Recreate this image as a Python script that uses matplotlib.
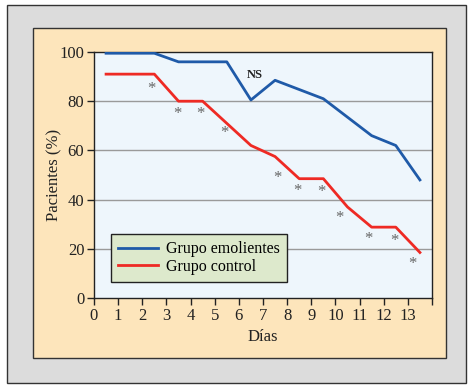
import matplotlib.pyplot as plt
from matplotlib.patches import Rectangle

# Data
dias = [0.5, 2.5, 3.5, 5.5, 6.5, 7.5, 9.5, 11.5, 12.5, 13.5]
emolientes = [99.5, 99.5, 96, 96, 80.5, 88.5, 81, 66, 62, 48]

dias_ctrl = [0.5, 2.5, 3.5, 4.5, 6.5, 7.5, 8.5, 9.5, 10.5, 11.5, 12.5, 13.5]
control = [91, 91, 80, 80, 62, 57.5, 48.5, 48.5, 37, 28.8, 28.8, 18.5]

# asterisks (significance marks)
ast_x = [2.36, 3.47, 4.42, 5.41, 7.59, 8.41, 9.41, 10.15, 11.35, 12.43, 13.2]
ast_y = [84.8, 74.7, 74.7, 67, 48.9, 43.6, 43, 32.4, 24.1, 23, 13.9]

xticks = list(range(0, 15))
xlabels = [str(i) for i in range(0, 14)] + ['']
yticks = [0, 20, 40, 60, 80, 100]

plt.rcParams['font.family'] = ['Liberation Serif', 'DejaVu Serif']

fig = plt.figure(figsize=(4.72, 3.89), dpi=100)
fig.patch.set_facecolor('white')

W, H = 472, 389
# outer grey frame
fig.patches.append(Rectangle((7 / W, 1 - 383 / H), 459 / W, 378 / H, transform=fig.transFigure,
                             facecolor='#dcdcdc', edgecolor='#333333', lw=1.0, zorder=-2))
# beige panel
fig.patches.append(Rectangle((33 / W, 1 - 358 / H), 413 / W, 330 / H, transform=fig.transFigure,
                             facecolor='#fde5bb', edgecolor='#333333', lw=1.0, zorder=-1))

ax = fig.add_axes([94 / W, 1 - 298 / H, 338 / W, 246 / H])
ax.set_zorder(2)
ax.set_facecolor('#eef6fc')

for y in [20, 40, 60, 80]:
    ax.axhline(y, color='#9a9a9a', lw=1.0, zorder=1)

ax.plot(dias, emolientes, color='#1f5aa8', lw=2.0, label='Grupo emolientes', zorder=3)
ax.plot(dias_ctrl, control, color='#ee2a24', lw=2.0, label='Grupo control', zorder=3)

for x, y in zip(ast_x, ast_y):
    ax.text(x, y, '*', color='#666666', fontsize=12, ha='center', va='center', zorder=4)

ax.text(6.65, 90.5, 'NS', fontsize=9, fontweight='bold', ha='center', va='center', color='#222222')

ax.set_xlim(0, 14)
ax.set_ylim(0, 100)
ax.set_xticks(xticks)
ax.set_xticklabels(xlabels)
ax.set_yticks(yticks)
ax.tick_params(axis='both', labelsize=12, length=5, width=1.0, colors='#222222', pad=2)
for s in ax.spines.values():
    s.set_color('#222222')
    s.set_linewidth(1.0)

ax.set_xlabel('Días', fontsize=12, labelpad=4, color='#222222')
ax.set_ylabel('Pacientes (%)', fontsize=12, labelpad=-2, color='#222222')

leg = ax.legend(loc='lower left', bbox_to_anchor=(0.05, 0.065), fontsize=11.5, frameon=True,
                fancybox=False, edgecolor='#222222', facecolor='#dde9cc', framealpha=1,
                handlelength=2.5, handletextpad=0.5, borderpad=0.45, labelspacing=0.1,
                borderaxespad=0)
leg.get_frame().set_linewidth(1.0)

fig.savefig('out.png', dpi=100)
